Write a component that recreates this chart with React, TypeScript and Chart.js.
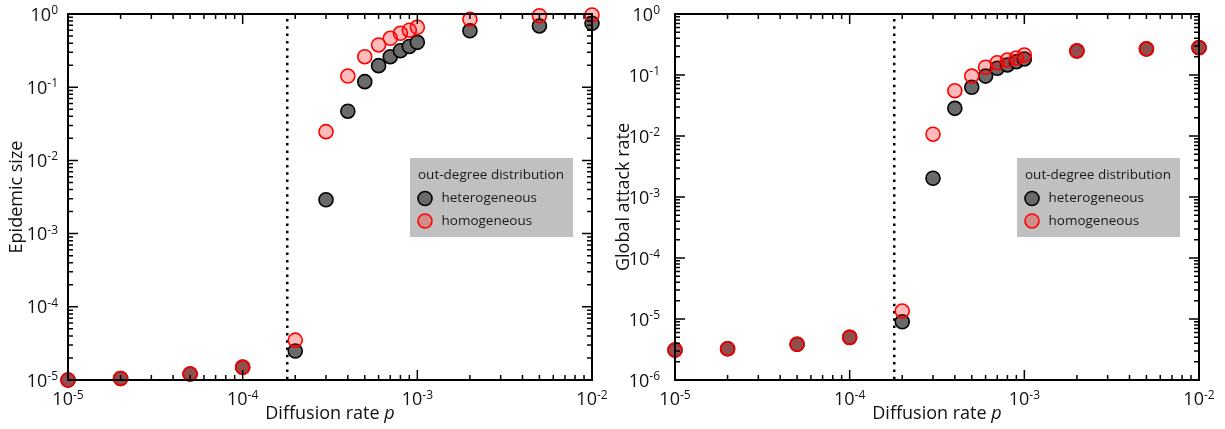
import React, { useEffect, useRef } from "react";
import { Chart, registerables } from "chart.js";

Chart.register(...registerables);

// ---------------- data ----------------
const P_VALUES = [1e-5, 2e-5, 5e-5, 1e-4, 2e-4, 3e-4, 4e-4, 5e-4, 6e-4, 7e-4, 8e-4, 9e-4, 1e-3, 2e-3, 5e-3, 1e-2];

const EPIDEMIC_HET = [1.0e-5, 1.05e-5, 1.21e-5, 1.49e-5, 2.49e-5, 2.9e-3, 0.047, 0.119, 0.197, 0.261, 0.315, 0.36, 0.41, 0.59, 0.686, 0.746];
const EPIDEMIC_HOM = [1.0e-5, 1.05e-5, 1.21e-5, 1.5e-5, 3.5e-5, 0.0247, 0.142, 0.261, 0.378, 0.466, 0.545, 0.6, 0.658, 0.846, 0.948, 0.97];

const ATTACK_HET = [3.1e-6, 3.26e-6, 3.85e-6, 5.0e-6, 9.0e-6, 2.03e-3, 0.0284, 0.0628, 0.096, 0.129, 0.146, 0.165, 0.183, 0.247, 0.267, 0.28];
const ATTACK_HOM = [3.1e-6, 3.26e-6, 3.85e-6, 5.0e-6, 1.35e-5, 0.0107, 0.0553, 0.096, 0.134, 0.159, 0.176, 0.19, 0.213, 0.25, 0.27, 0.283];

const X_TICK_EXPONENTS = [-5, -4, -3, -2];
const EPIDEMIC_Y_EXPONENTS = [-5, -4, -3, -2, -1, 0];
const ATTACK_Y_EXPONENTS = [-6, -5, -4, -3, -2, -1, 0];

const THRESHOLD_P = 1.8e-4;

const SERIES_LABELS = ["heterogeneous", "homogeneous"];
const LEGEND_TITLE = "out-degree distribution";
const X_TITLE = "Diffusion rate ";
const X_TITLE_VAR = "p";
const Y_TITLES = ["Epidemic size", "Global attack rate"];

// ---------------- styles ----------------
const FONT = '"Open Sans", "DejaVu Sans", sans-serif';
const HET_FILL = "#6a6a6a";
const HET_BORDER = "#000000";
const HOM_FILL = "rgba(255,0,0,0.27)";
const HOM_BORDER = "#ff0000";
const POINT_R = 7;
const POINT_BW = 1.6;

type PanelSpec = {
  het: number[];
  hom: number[];
  yExps: number[];
  yTitle: string;
  width: number;
  yAxisWidth: number;
  rightPad: number;
  yLabelGap: number;
  yTitlePad: number;
};

function drawPower(ctx: CanvasRenderingContext2D, exp: number, x: number, baseline: number, align: "center" | "right") {
  const base = "10";
  const sup = String(exp);
  ctx.font = `18px ${FONT}`;
  const wb = ctx.measureText(base).width;
  ctx.font = `12px ${FONT}`;
  const ws = ctx.measureText(sup).width;
  const total = wb + ws;
  const start = align === "center" ? x - total / 2 : x - total;
  ctx.textAlign = "left";
  ctx.textBaseline = "alphabetic";
  ctx.fillStyle = "#111";
  ctx.font = `18px ${FONT}`;
  ctx.fillText(base, start, baseline);
  ctx.font = `12px ${FONT}`;
  ctx.fillText(sup, start + wb, baseline - 6.5);
}

function makePlugin(spec: PanelSpec) {
  return {
    id: "decor",
    beforeDatasetsDraw(chart: any) {
      const { ctx, chartArea, scales } = chart;
      const px = scales.x.getPixelForValue(THRESHOLD_P);
      ctx.save();
      ctx.strokeStyle = "#000";
      ctx.lineWidth = 2.5;
      ctx.setLineDash([2.5, 4.8]);
      ctx.beginPath();
      ctx.moveTo(px, chartArea.top + 5);
      ctx.lineTo(px, chartArea.bottom);
      ctx.stroke();
      ctx.restore();
    },
    afterDatasetsDraw(chart: any) {
      const { ctx, chartArea, scales } = chart;
      const { left, right, top, bottom } = chartArea;
      const xs = scales.x;
      const ys = scales.y;
      ctx.save();
      ctx.strokeStyle = "#000";
      ctx.lineWidth = 1.5;
      ctx.beginPath();
      const xe = X_TICK_EXPONENTS;
      for (let e = xe[0]; e <= xe[xe.length - 1]; e++) {
        for (let k = 1; k <= 9; k++) {
          if (e === xe[xe.length - 1] && k > 1) break;
          const p = xs.getPixelForValue(k * Math.pow(10, e));
          const len = k === 1 ? 10 : 5;
          ctx.moveTo(p, bottom);
          ctx.lineTo(p, bottom - len);
          ctx.moveTo(p, top);
          ctx.lineTo(p, top + len);
        }
      }
      const ye = spec.yExps;
      for (let e = ye[0]; e <= ye[ye.length - 1]; e++) {
        for (let k = 1; k <= 9; k++) {
          if (e === ye[ye.length - 1] && k > 1) break;
          const p = ys.getPixelForValue(k * Math.pow(10, e));
          const len = k === 1 ? 10 : 5;
          ctx.moveTo(left, p);
          ctx.lineTo(left + len, p);
          ctx.moveTo(right, p);
          ctx.lineTo(right - len, p);
        }
      }
      ctx.stroke();
      ctx.lineWidth = 2;
      ctx.strokeRect(left, top, right - left, bottom - top);

      for (const e of X_TICK_EXPONENTS) {
        drawPower(ctx, e, xs.getPixelForValue(Math.pow(10, e)), bottom + 25, "center");
      }
      for (const e of spec.yExps) {
        drawPower(ctx, e, left - spec.yLabelGap, ys.getPixelForValue(Math.pow(10, e)) + 6.5, "right");
      }

      ctx.font = `18px ${FONT}`;
      const w1 = ctx.measureText(X_TITLE).width;
      ctx.font = `italic 18px ${FONT}`;
      const w2 = ctx.measureText(X_TITLE_VAR).width;
      const cx = (left + right) / 2;
      const sx = cx - (w1 + w2) / 2;
      ctx.fillStyle = "#111";
      ctx.textAlign = "left";
      ctx.textBaseline = "alphabetic";
      ctx.font = `18px ${FONT}`;
      ctx.fillText(X_TITLE, sx, bottom + 39);
      ctx.font = `italic 18px ${FONT}`;
      ctx.fillText(X_TITLE_VAR, sx + w1, bottom + 39);
      ctx.restore();
    },
    afterDraw(chart: any) {
      const { ctx, chartArea } = chart;
      const bw = 163;
      const bh = 79;
      const bx = chartArea.right - 19 - bw;
      const by = 158;
      ctx.save();
      ctx.fillStyle = "#c0c0c0";
      ctx.fillRect(bx, by, bw, bh);
      ctx.fillStyle = "#1a1a1a";
      ctx.font = `13.5px ${FONT}`;
      ctx.textAlign = "left";
      ctx.textBaseline = "alphabetic";
      ctx.fillText(LEGEND_TITLE, bx + 8, by + 21);
      const ds = chart.data.datasets;
      [0, 1].forEach((i, row) => {
        const d = ds[i];
        const cy = by + 40.5 + row * 22.5;
        const cxp = bx + 15;
        ctx.beginPath();
        ctx.arc(cxp, cy, POINT_R, 0, Math.PI * 2);
        ctx.fillStyle = d.backgroundColor;
        ctx.fill();
        ctx.lineWidth = POINT_BW;
        ctx.strokeStyle = d.borderColor;
        ctx.stroke();
        ctx.fillStyle = "#1a1a1a";
        ctx.textBaseline = "middle";
        ctx.fillText(d.label, bx + 31.5, cy);
      });
      ctx.restore();
    },
  };
}

function Panel({ spec, left }: { spec: PanelSpec; left: number }) {
  const ref = useRef<HTMLCanvasElement>(null);
  useEffect(() => {
    const canvas = ref.current;
    if (!canvas) return;
    const yMin = Math.pow(10, spec.yExps[0]);
    const yMax = Math.pow(10, spec.yExps[spec.yExps.length - 1]);
    const chart = new Chart(canvas, {
      type: "scatter",
      data: {
        datasets: [
          {
            label: SERIES_LABELS[0],
            data: P_VALUES.map((x, i) => ({ x, y: spec.het[i] })),
            backgroundColor: HET_FILL,
            borderColor: HET_BORDER,
            borderWidth: POINT_BW,
            pointRadius: POINT_R,
            order: 2,
            clip: false,
          } as any,
          {
            label: SERIES_LABELS[1],
            data: P_VALUES.map((x, i) => ({ x, y: spec.hom[i] })),
            backgroundColor: HOM_FILL,
            borderColor: HOM_BORDER,
            borderWidth: POINT_BW,
            pointRadius: POINT_R,
            order: 1,
            clip: false,
          } as any,
        ],
      },
      options: {
        animation: false,
        responsive: false,
        devicePixelRatio: 1,
        layout: { padding: { left: 0, top: 14, right: spec.rightPad, bottom: 0 } },
        plugins: { legend: { display: false }, tooltip: { enabled: false } },
        scales: {
          x: {
            type: "logarithmic",
            min: Math.pow(10, X_TICK_EXPONENTS[0]),
            max: Math.pow(10, X_TICK_EXPONENTS[X_TICK_EXPONENTS.length - 1]),
            grid: { display: false },
            border: { display: false },
            ticks: { display: false },
            afterFit: (s: any) => {
              s.height = 49;
            },
          },
          y: {
            type: "logarithmic",
            min: yMin,
            max: yMax,
            grid: { display: false },
            border: { display: false },
            ticks: { display: false },
            title: {
              display: true,
              text: spec.yTitle,
              color: "#111",
              font: { family: FONT, size: 18 },
              padding: { top: spec.yTitlePad, bottom: 0 },
            },
            afterFit: (s: any) => {
              s.width = spec.yAxisWidth;
            },
          },
        },
      },
      plugins: [makePlugin(spec)],
    } as any);
    return () => chart.destroy();
  }, []);
  return (
    <canvas
      ref={ref}
      width={spec.width}
      height={429}
      style={{ position: "absolute", left, top: 0, width: spec.width, height: 429 }}
    />
  );
}

const LEFT_SPEC: PanelSpec = {
  het: EPIDEMIC_HET,
  hom: EPIDEMIC_HOM,
  yExps: EPIDEMIC_Y_EXPONENTS,
  yTitle: Y_TITLES[0],
  width: 612,
  yAxisWidth: 68,
  rightPad: 20,
  yLabelGap: 10,
  yTitlePad: 6,
};

const RIGHT_SPEC: PanelSpec = {
  het: ATTACK_HET,
  hom: ATTACK_HOM,
  yExps: ATTACK_Y_EXPONENTS,
  yTitle: Y_TITLES[1],
  width: 613,
  yAxisWidth: 63,
  rightPad: 26,
  yLabelGap: 15,
  yTitlePad: 1,
};

export default function App() {
  return (
    <div style={{ position: "absolute", left: 0, top: 0, width: 1225, height: 429, background: "#fff", overflow: "hidden" }}>
      <Panel spec={LEFT_SPEC} left={0} />
      <Panel spec={RIGHT_SPEC} left={612} />
    </div>
  );
}
